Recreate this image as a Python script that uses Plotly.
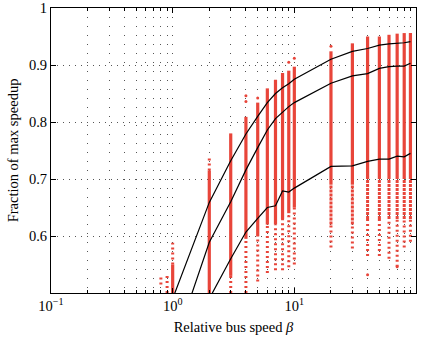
import plotly.graph_objects as go

# ---------------- data ----------------
line_x = [1, 2, 3, 4, 5, 6, 7, 8, 9, 10, 20, 30, 40, 50, 60, 70, 80, 90]
top_line = [0.49, 0.659, 0.732, 0.779, 0.810, 0.834, 0.850, 0.860, 0.867, 0.875,
            0.910, 0.924, 0.929, 0.935, 0.937, 0.938, 0.939, 0.941]
mid_line = [0.40, 0.589, 0.660, 0.716, 0.755, 0.786, 0.806, 0.818, 0.827, 0.834,
            0.868, 0.881, 0.885, 0.894, 0.897, 0.898, 0.898, 0.903]
bot_line = [0.33, 0.49, 0.560, 0.607, 0.631, 0.650, 0.653, 0.679, 0.677, 0.684,
            0.722, 0.723, 0.731, 0.735, 0.735, 0.740, 0.739, 0.745]

# dense (solid-looking) parts of the red sample columns
dense_x = [1, 2, 3, 4, 5, 6, 7, 8, 9, 10, 20, 30, 40, 50, 60, 70, 80, 90]
dense_lo = [0.50, 0.50, 0.53, 0.595, 0.60, 0.62, 0.62, 0.63, 0.64, 0.65,
            0.69, 0.69, 0.70, 0.70, 0.70, 0.70, 0.70, 0.70]
dense_hi = [0.55, 0.715, 0.780, 0.809, 0.834, 0.859, 0.874, 0.886, 0.890, 0.897,
            0.924, 0.938, 0.950, 0.950, 0.953, 0.955, 0.956, 0.956]

# semi-dense parts (closely spaced samples)
semi_x = [20, 30, 40, 50, 60, 70, 80, 90]
semi_lo = [0.62, 0.62, 0.63, 0.63, 0.63, 0.63, 0.63, 0.63]
semi_hi = [0.69, 0.69, 0.70, 0.70, 0.70, 0.70, 0.70, 0.70]

# sparse parts of the red sample columns
sparse_x = [0.8, 0.9, 1, 2, 3, 4, 5, 6, 7, 8, 9, 10, 20, 30, 40, 50, 60, 70, 80, 90]
sparse_lo = [0.515, 0.50, 0.55, 0.715, 0.50, 0.50, 0.52, 0.535, 0.54, 0.54, 0.545, 0.55,
             0.58, 0.578, 0.565, 0.565, 0.56, 0.546, 0.58, 0.59]
sparse_hi = [0.532, 0.535, 0.588, 0.74, 0.53, 0.595, 0.60, 0.62, 0.62, 0.63, 0.64, 0.65,
             0.62, 0.62, 0.63, 0.63, 0.63, 0.63, 0.63, 0.63]

# isolated red samples
out_x = [4, 4, 5, 9, 10, 20, 40, 70]
out_y = [0.846, 0.836, 0.842, 0.905, 0.912, 0.933, 0.532, 0.546]

x_tickvals = [0.1, 1, 10, 100]
x_ticktext = ["10<sup>\u22121</sup>", "10<sup>0</sup>", "10<sup>1</sup>", "10<sup>2</sup>"]
x_minor = [0.2, 0.3, 0.4, 0.5, 0.6, 0.7, 0.8, 0.9,
           2, 3, 4, 5, 6, 7, 8, 9, 20, 30, 40, 50, 60, 70, 80, 90]
y_tickvals = [0.6, 0.7, 0.8, 0.9, 1.0]
y_ticktext = ["0.6", "0.7", "0.8", "0.9", "1"]

RED = "#e8453a"
FONT = "Liberation Serif"

fig = go.Figure()

# dense parts: drawn as vertical error-bar strokes from lo to hi
fig.add_trace(go.Scatter(
    x=dense_x, y=dense_hi, mode="markers",
    marker=dict(color=RED, size=1, opacity=0),
    error_y=dict(type="data", symmetric=False,
                 array=[0] * len(dense_x),
                 arrayminus=[h - l for l, h in zip(dense_lo, dense_hi)],
                 color=RED, thickness=3.2, width=0),
    hoverinfo="skip", showlegend=False))


def add_columns(xs, los, his, line):
    for x, a, b in zip(xs, los, his):
        fig.add_trace(go.Scatter(x=[x, x], y=[a, b], mode="lines", line=line,
                                 hoverinfo="skip", showlegend=False))


add_columns(sparse_x, sparse_lo, sparse_hi, dict(color=RED, width=3, dash="2px,3px"))
add_columns(semi_x, semi_lo, semi_hi, dict(color=RED, width=3, dash="3px,1px"))

fig.add_trace(go.Scatter(x=out_x, y=out_y, mode="markers",
                         marker=dict(color=RED, size=3),
                         hoverinfo="skip", showlegend=False))

for ys in (top_line, mid_line, bot_line):
    fig.add_trace(go.Scatter(x=line_x, y=ys, mode="lines",
                             line=dict(color="black", width=1.2),
                             showlegend=False))

fig.update_layout(
    width=424, height=338,
    margin=dict(l=51, r=8, t=8, b=45),
    paper_bgcolor="white", plot_bgcolor="white",
    font=dict(family=FONT, size=14, color="black"),
)

fig.update_xaxes(
    type="log", range=[-1, 2], automargin=False,
    tickmode="array", tickvals=x_tickvals, ticktext=x_ticktext,
    ticks="inside", ticklen=5, tickcolor="black", tickwidth=1,
    showline=True, linecolor="black", linewidth=1, mirror="ticks",
    showgrid=True, gridcolor="#555555", gridwidth=1, griddash="1px,8px",
    minor=dict(tickmode="array", tickvals=x_minor, ticks="inside", ticklen=3,
               tickcolor="black", showgrid=True, gridcolor="#555555",
               gridwidth=1, griddash="1px,8px"),
    zeroline=False,
    title=dict(text="Relative bus speed <i>\u03b2</i>", standoff=8,
               font=dict(family=FONT, size=14.5)),
    tickfont=dict(family=FONT, size=14.5),
)

fig.update_yaxes(
    range=[0.5, 1.0], automargin=False,
    tickmode="array", tickvals=y_tickvals, ticktext=y_ticktext,
    ticks="inside", ticklen=5, tickcolor="black",
    showline=True, linecolor="black", linewidth=1, mirror="ticks",
    showgrid=True, gridcolor="#555555", gridwidth=1, griddash="1px,5px",
    zeroline=False,
    title=dict(text="Fraction of max speedup", standoff=6,
               font=dict(family=FONT, size=14.5)),
    tickfont=dict(family=FONT, size=14.5),
)

fig.write_html("out.html")
